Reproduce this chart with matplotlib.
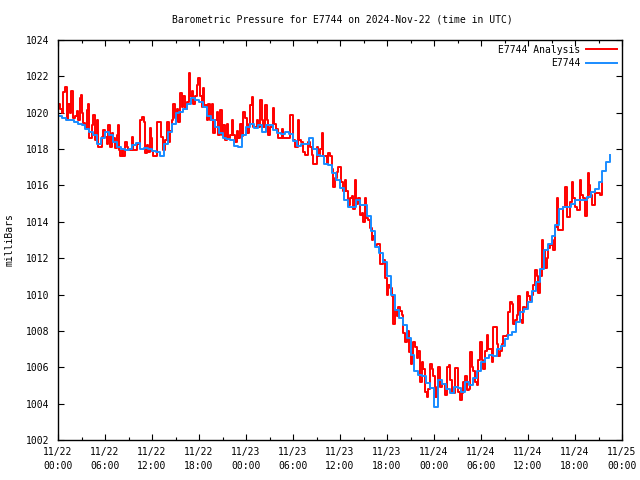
import numpy as np
import pandas as pd
import matplotlib
matplotlib.use("Agg")
import matplotlib.pyplot as plt
import matplotlib.dates as mdates
from matplotlib.ticker import MultipleLocator, FormatStrFormatter

# ---------------- data ----------------
title = "Barometric Pressure for E7744 on 2024-Nov-22 (time in UTC)"
ylabel = "milliBars"
series_names = ["E7744 Analysis", "E7744"]
series_colors = ["#ff0000", "#1a8cff"]
x_start = "2024-11-22 00:00"
x_end = "2024-11-25 00:00"

# red: analysis -- hours after 11/22 00:00 and pressure (mb)
analysis_hours = [
    0.00, 0.26, 0.51, 0.64, 0.89, 1.15, 1.28, 1.53, 1.66, 1.91,
    2.17, 2.43, 2.55, 2.81, 2.94, 3.06, 3.19, 3.45, 3.70, 3.83,
    3.96, 4.34, 4.47, 4.72, 4.98, 5.11, 5.62, 5.74, 6.00, 6.26,
    6.38, 6.64, 6.89, 7.02, 7.28, 7.53, 7.66, 7.79, 7.91, 8.17,
    8.30, 8.55, 8.81, 8.94, 9.45, 9.57, 10.09, 10.47, 10.72, 10.98,
    11.11, 11.36, 11.49, 11.74, 11.87, 12.00, 12.13, 12.64, 13.15, 13.40,
    13.66, 13.91, 14.17, 14.30, 14.55, 14.68, 14.94, 15.19, 15.32, 15.57,
    15.83, 15.96, 16.21, 16.47, 16.72, 16.85, 17.11, 17.23, 17.49, 17.74,
    17.87, 18.13, 18.38, 18.51, 18.64, 19.02, 19.15, 19.40, 19.66, 19.79,
    20.04, 20.30, 20.43, 20.68, 20.94, 21.06, 21.32, 21.57, 21.70, 21.96,
    22.21, 22.34, 22.60, 22.85, 22.98, 23.23, 23.49, 23.62, 23.87, 24.13,
    24.38, 24.51, 24.77, 24.89, 25.40, 25.53, 25.79, 26.04, 26.17, 26.43,
    26.68, 26.81, 27.06, 27.45, 27.57, 27.83, 28.09, 28.60, 28.72, 29.62,
    30.00, 30.26, 30.64, 30.77, 31.02, 31.28, 31.53, 31.91, 32.17, 32.43,
    32.55, 33.06, 33.19, 33.45, 33.70, 33.83, 34.34, 34.47, 34.72, 34.98,
    35.11, 35.36, 35.62, 35.74, 36.13, 36.38, 36.64, 36.77, 37.02, 37.28,
    37.53, 37.66, 37.91, 38.04, 38.30, 38.55, 38.81, 38.94, 39.19, 39.32,
    39.57, 39.83, 40.09, 40.21, 40.47, 40.72, 41.11, 41.49, 41.74, 42.00,
    42.13, 42.38, 42.64, 42.77, 43.02, 43.28, 43.40, 43.66, 43.91, 44.04,
    44.30, 44.55, 44.81, 45.06, 45.19, 45.32, 45.57, 45.83, 45.96, 46.21,
    46.47, 46.60, 46.85, 47.11, 47.23, 47.49, 47.74, 47.87, 48.13, 48.38,
    48.51, 48.77, 49.02, 49.40, 49.66, 49.92, 50.04, 50.30, 50.68, 51.06,
    51.32, 51.57, 51.70, 51.96, 52.21, 52.47, 52.60, 52.85, 52.98, 53.23,
    53.49, 53.62, 53.87, 54.13, 54.26, 54.51, 54.77, 54.89, 55.40, 55.53,
    56.04, 56.17, 56.43, 56.68, 56.81, 57.32, 57.45, 57.70, 57.96, 58.09,
    58.34, 58.60, 58.72, 58.98, 59.23, 59.36, 59.62, 59.87, 60.00, 60.26,
    60.51, 60.64, 60.89, 61.15, 61.28, 61.53, 61.79, 61.91, 62.17, 62.43,
    62.55, 62.81, 63.06, 63.19, 63.45, 63.70, 63.83, 64.47, 64.72, 64.98,
    65.36, 65.62, 65.74, 66.00, 66.26, 66.64, 66.77, 67.02, 67.28, 67.53,
    67.66, 67.79, 67.91, 68.17, 68.55, 69.19, 69.45,
]
analysis_values = [
    1020.5, 1020.2, 1020.0, 1021.15, 1021.4, 1019.6, 1020.5, 1020.0, 1021.2, 1019.7,
    1019.8, 1020.1, 1019.6, 1020.8, 1021.0, 1020.0, 1019.45, 1019.15, 1020.15, 1020.5,
    1018.6, 1019.3, 1019.9, 1018.5, 1019.6, 1018.1, 1018.65, 1019.05, 1018.65, 1018.3,
    1019.3, 1018.1, 1018.9, 1018.6, 1018.05, 1018.8, 1019.3, 1017.95, 1017.6, 1017.95,
    1017.6, 1018.4, 1018.1, 1017.95, 1018.65, 1017.95, 1018.3, 1019.6, 1019.75, 1019.5,
    1017.8, 1018.2, 1017.85, 1019.15, 1018.6, 1017.9, 1017.6, 1019.5, 1018.65, 1017.95,
    1018.5, 1019.5, 1018.4, 1019.0, 1019.6, 1020.5, 1019.7, 1020.2, 1019.5, 1021.1,
    1020.3, 1020.9, 1020.2, 1020.6, 1022.2, 1020.9, 1021.2, 1020.5, 1020.9, 1021.5,
    1021.9, 1020.9, 1020.3, 1021.35, 1020.4, 1019.6, 1020.5, 1019.6, 1020.5, 1018.9,
    1019.6, 1020.05, 1018.8, 1020.15, 1018.8, 1019.3, 1018.5, 1019.4, 1018.6, 1018.8,
    1019.6, 1018.8, 1018.4, 1019.0, 1018.6, 1019.4, 1018.7, 1020.05, 1019.7, 1018.9,
    1019.4, 1020.4, 1020.85, 1019.2, 1019.6, 1019.2, 1020.7, 1019.6, 1019.2, 1020.4,
    1019.6, 1018.8, 1019.2, 1020.25, 1019.4, 1019.1, 1018.6, 1019.1, 1018.6, 1019.9,
    1018.5, 1018.1, 1019.6, 1018.5, 1018.4, 1017.85, 1017.7, 1018.4, 1018.1, 1017.7,
    1017.2, 1018.1, 1017.6, 1018.0, 1018.9, 1017.6, 1017.2, 1017.8, 1017.6, 1016.9,
    1015.9, 1016.4, 1016.75, 1017.0, 1016.2, 1015.7, 1016.3, 1015.7, 1014.9, 1015.3,
    1015.4, 1014.7, 1016.3, 1015.0, 1015.3, 1014.4, 1014.5, 1014.0, 1015.3, 1014.2,
    1014.1, 1013.65, 1013.0, 1013.2, 1012.7, 1012.8, 1011.7, 1011.9, 1010.9, 1010.0,
    1010.5, 1010.35, 1009.9, 1008.4, 1009.15, 1008.8, 1009.3, 1009.1, 1008.9, 1007.9,
    1007.4, 1008.0, 1006.85, 1006.2, 1006.7, 1007.4, 1007.1, 1006.5, 1006.9, 1005.2,
    1006.3, 1005.9, 1004.65, 1004.35, 1004.8, 1006.2, 1005.9, 1005.5, 1004.35, 1004.9,
    1006.0, 1004.9, 1005.1, 1004.5, 1006.0, 1006.1, 1005.3, 1004.6, 1005.95, 1004.65,
    1004.2, 1004.6, 1005.2, 1005.5, 1004.75, 1004.8, 1006.85, 1006.0, 1005.8, 1005.2,
    1005.0, 1006.4, 1007.4, 1006.4, 1005.9, 1006.9, 1007.8, 1007.0, 1006.3, 1008.2,
    1007.3, 1006.6, 1006.9, 1007.3, 1007.7, 1007.8, 1009.05, 1009.6, 1009.5, 1008.4,
    1008.6, 1008.9, 1009.9, 1008.6, 1008.45, 1009.3, 1009.2, 1010.15, 1009.9, 1009.7,
    1010.0, 1010.5, 1011.35, 1011.0, 1010.1, 1011.0, 1013.0, 1012.45, 1011.45, 1012.0,
    1012.55, 1012.7, 1013.0, 1012.45, 1013.7, 1015.3, 1013.55, 1014.8, 1015.9, 1014.25,
    1015.1, 1016.2, 1015.3, 1014.8, 1014.65, 1016.3, 1015.5, 1015.3, 1014.3, 1015.3,
    1016.7, 1016.0, 1015.5, 1014.9, 1015.6, 1015.5, 1016.2,
]

# blue: station -- half-hourly from 11/22 00:00
station_step_minutes = 30
station_values = [
    1019.8, 1019.7, 1019.6, 1019.6, 1019.5, 1019.4, 1019.3, 1019.1,
    1018.95, 1018.8, 1018.3, 1018.6, 1018.95, 1018.8, 1018.4, 1018.1,
    1018.0, 1017.95, 1018.0, 1018.2, 1018.35, 1018.0, 1018.05, 1018.0,
    1017.9, 1017.85, 1017.6, 1018.3, 1018.95, 1019.4, 1020.0, 1020.05,
    1020.2, 1020.5, 1020.8, 1020.7, 1020.6, 1020.3, 1019.8, 1019.6,
    1019.2, 1018.9, 1018.6, 1018.55, 1018.5, 1018.15, 1018.1, 1018.8,
    1019.2, 1019.4, 1019.15, 1019.3, 1018.95, 1019.3, 1019.3, 1019.05,
    1018.9, 1018.85, 1018.95, 1018.85, 1018.45, 1018.15, 1018.3, 1018.3,
    1018.6, 1018.0, 1017.7, 1017.6, 1017.2, 1017.15, 1016.7, 1016.3,
    1015.85, 1015.2, 1014.8, 1014.8, 1015.2, 1014.9, 1014.9, 1014.3,
    1013.5, 1012.6, 1012.3, 1011.8, 1011.0, 1010.0, 1009.15, 1008.7,
    1008.3, 1007.6, 1006.7, 1005.8, 1005.6, 1005.5, 1005.15, 1004.85,
    1003.8, 1005.3, 1005.1, 1004.8, 1004.6, 1004.9, 1004.85, 1004.65,
    1005.2, 1005.0, 1005.4, 1005.8, 1006.3, 1006.5, 1006.7, 1006.6,
    1007.0, 1007.15, 1007.55, 1007.8, 1007.95, 1008.5, 1009.05, 1009.2,
    1009.6, 1010.2, 1010.7, 1011.4, 1012.45, 1012.8, 1013.2, 1013.85,
    1014.7, 1014.8, 1014.8, 1015.0, 1015.2, 1015.2, 1015.2, 1015.35,
    1015.65, 1015.8, 1016.2, 1016.8, 1017.3, 1017.65,
]

y_min, y_max, y_step = 1002, 1024, 2

# ---------------- plot ----------------
plt.rcParams["font.family"] = ["DejaVu Sans Mono"]
plt.rcParams["font.size"] = 7

t0 = pd.Timestamp(x_start)
t_analysis = t0 + pd.to_timedelta(analysis_hours, unit="h")
t_station = pd.date_range(x_start, periods=len(station_values),
                          freq=f"{station_step_minutes}min")

fig = plt.figure(figsize=(6.4, 4.8), dpi=100)
ax = fig.add_axes([58 / 640, 40 / 480, 564 / 640, 400 / 480])

ax.step(t_analysis, analysis_values, where="post", color=series_colors[0],
        lw=1.4, label=series_names[0])
ax.step(t_station, station_values, where="post", color=series_colors[1],
        lw=1.4, label=series_names[1])

ax.set_xlim(t0, pd.Timestamp(x_end))
ax.set_ylim(y_min, y_max)

ax.yaxis.set_major_locator(MultipleLocator(y_step))
ax.yaxis.set_major_formatter(FormatStrFormatter("%d"))

xticks = pd.date_range(x_start, x_end, freq="6h")
ax.set_xticks(xticks)
ax.set_xticklabels([d.strftime("%m/%d\n%H:%M") for d in xticks], linespacing=1.45)
ax.xaxis.set_minor_locator(mdates.HourLocator(byhour=[3, 9, 15, 21]))

ax.tick_params(which="major", direction="in", top=True, right=True,
               length=4.5, width=0.8, labelsize=7, pad=5)
ax.tick_params(which="minor", direction="in", top=True, right=True,
               length=2.5, width=0.8)
ax.tick_params(axis="y", pad=6)
for s in ax.spines.values():
    s.set_linewidth(1.0)

fig.text(342 / 640, 1 - 19 / 480, title, ha="center", va="center", fontsize=7)
fig.text(10 / 640, 0.5, ylabel, rotation=90, ha="center", va="center", fontsize=7)

ax.legend(loc="upper right", frameon=False, markerfirst=False, fontsize=7,
          handlelength=3.2, handletextpad=0.6, labelspacing=0.35,
          borderaxespad=0.3, borderpad=0.2)

fig.savefig("out.png", dpi=100)
